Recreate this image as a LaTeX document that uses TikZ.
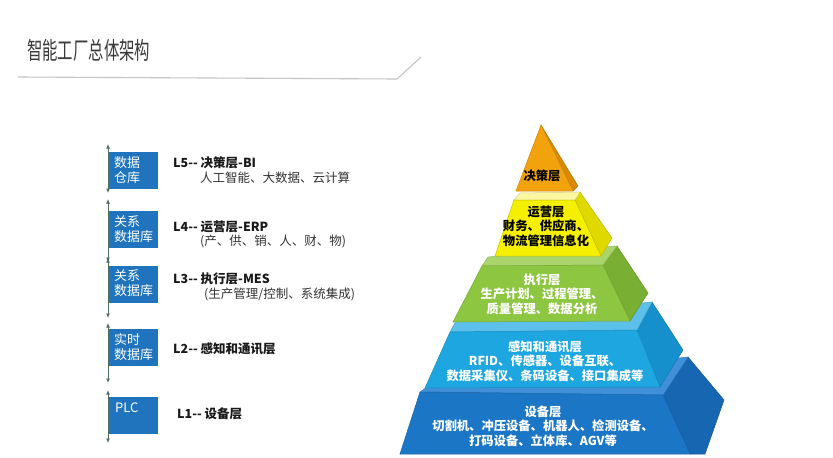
\documentclass[tikz,border=0pt]{standalone}
\usepackage{fontspec}
\usepackage{graphicx}
\setmainfont{Noto Sans CJK SC}
\usetikzlibrary{arrows.meta}
\definecolor{titlegray}{HTML}{3A3A3A}
\definecolor{linegray}{HTML}{C4C4C4}
\definecolor{axiscol}{HTML}{4D6E63}
\definecolor{boxblue}{HTML}{1F74BD}
\definecolor{oF}{HTML}{F2A20C}
\definecolor{oS}{HTML}{D98A00}
\definecolor{yF}{HTML}{F5F000}
\definecolor{yT}{HTML}{FAF7A0}
\definecolor{yS}{HTML}{E0D900}
\definecolor{gF}{HTML}{8DC640}
\definecolor{gT}{HTML}{AAD56C}
\definecolor{gS}{HTML}{79AF33}
\definecolor{lF}{HTML}{1DA6E0}
\definecolor{lT}{HTML}{5CC0EA}
\definecolor{lS}{HTML}{1690CC}
\definecolor{dF}{HTML}{1C76C6}
\definecolor{dT}{HTML}{3F90D8}
\definecolor{dS}{HTML}{1766B2}
\tikzset{
  boxnode/.style={fill=boxblue, minimum width=49pt, minimum height=37pt, inner sep=0pt, anchor=north west},
  boxtxt/.style={text=white, font=\fontsize{13}{15}\selectfont, align=left, inner sep=0pt, anchor=base west},
  axisseg/.style={draw=axiscol, line width=0.9pt, {Latex[length=4.5pt,width=4pt]}-{Latex[length=4.5pt,width=4pt]}},
  lhead/.style={font=\fontsize{12.5}{15}\selectfont\bfseries, text=black!90, inner sep=0pt, anchor=base west},
  lsub/.style={font=\fontsize{12.5}{15}\selectfont, text=black!80, inner sep=0pt, anchor=base west},
  ptxt/.style={font=\fontsize{12.3}{14.6}\selectfont\bfseries, align=center, inner sep=0pt},
}
\begin{document}
\begin{tikzpicture}[x=1pt,y=-1pt]
\useasboundingbox (0,0) rectangle (833,458);
\fill[white] (0,0) rectangle (833,458);

% title
\node[anchor=base west, inner sep=0pt, text=titlegray, font=\fontsize{24}{28}\selectfont] (title) at (27,59) {\scalebox{0.64}[1]{智能工厂总体架构}};
\coordinate (t1) at (18,77);
\coordinate (t2) at (397,79);
\coordinate (t3) at (421,57);
\draw[linegray, line width=1.1pt] (t1) -- (t2) -- (t3);

% left axis segments
\coordinate (a1) at (108,144); \coordinate (a2) at (108,193);
\coordinate (a3) at (108,199); \coordinate (a4) at (108,262);
\coordinate (a5) at (108,258); \coordinate (a6) at (108,318);
\coordinate (a7) at (108,323); \coordinate (a8) at (108,383);
\coordinate (a9) at (108,390); \coordinate (a10) at (108,443);
\draw[axisseg] (a1) -- (a2);
\draw[axisseg] (a3) -- (a4);
\draw[axisseg] (a5) -- (a6);
\draw[axisseg] (a7) -- (a8);
\draw[axisseg] (a9) -- (a10);

% left boxes
\node[boxnode] (b5) at (109,152) {};
\node[boxnode] (b4) at (109,211) {};
\node[boxnode] (b3) at (109,266) {};
\node[boxnode] (b2) at (109,329) {};
\node[boxnode] (b1) at (109,397) {};
\node[boxtxt] (b5t) at ([shift={(5,30.5)}]b5.north west) {数据\\仓库};
\node[boxtxt] (b4t) at ([shift={(5,30)}]b4.north west) {关系\\数据库};
\node[boxtxt] (b3t) at ([shift={(5,29)}]b3.north west) {关系\\数据库};
\node[boxtxt] (b2t) at ([shift={(5,30.5)}]b2.north west) {实时\\数据库};
\node[boxtxt] (b1t) at ([shift={(6,15.5)}]b1.north west) {PLC};

% left labels
\node[lhead] (l5) at (173,167) {L5-{}- 决策层-BI};
\node[lsub] (l5s) at (200,182) {人工智能、大数据、云计算};
\node[lhead] (l4) at (173,231) {L4-{}- 运营层-ERP};
\node[lsub] (l4s) at (200,245) {(产、供、销、人、财、物)};
\node[lhead] (l3) at (173,283) {L3-{}- 执行层-MES};
\node[lsub] (l3s) at (204,298) {(生产管理/控制、系统集成)};
\node[lhead] (l2) at (173,353) {L2-{}- 感知和通讯层};
\node[lhead] (l1) at (177,418) {L1-{}- 设备层};

% pyramid: bottom layer (dark blue)
\filldraw[fill=dS, draw=dS!85!black, line width=0.5pt] (663,395) -- (688,357) -- (724,400) -- (705,454) -- (690,454) -- cycle;
\filldraw[fill=dT, draw=dT!85!black, line width=0.5pt] (420,392) -- (430,385) -- (688,357) -- (663,395) -- cycle;
\filldraw[fill=dF, draw=dF!85!black, line width=0.5pt] (420,392) -- (663,395) -- (690,454) -- (400,454) -- cycle;
% light blue
\filldraw[fill=lS, draw=lS!85!black, line width=0.5pt] (637,330) -- (652,302) -- (683,350) -- (660,387) -- cycle;
\filldraw[fill=lT, draw=lT!85!black, line width=0.5pt] (450,332) -- (456,321) -- (652,302) -- (637,330) -- cycle;
\filldraw[fill=lF, draw=lF!85!black, line width=0.5pt] (450,332) -- (637,330) -- (660,387) -- (425,388) -- cycle;
% green
\filldraw[fill=gS, draw=gS!85!black, line width=0.5pt] (603,265) -- (617,246) -- (648,293) -- (630,321) -- cycle;
\filldraw[fill=gT, draw=gT!85!black, line width=0.5pt] (482,266) -- (488,257) -- (617,246) -- (603,265) -- cycle;
\filldraw[fill=gF, draw=gF!85!black, line width=0.5pt] (482,266) -- (603,265) -- (630,321) -- (453,322) -- cycle;
% yellow
\filldraw[fill=yS, draw=yS!85!black, line width=0.5pt] (575,200) -- (580,192) -- (612,238) -- (601,256) -- cycle;
\filldraw[fill=yT, draw=yT!85!black, line width=0.5pt] (514,200) -- (520,193) -- (580,192) -- (575,200) -- cycle;
\filldraw[fill=yF, draw=yF!80!black, line width=0.5pt] (514,200) -- (575,200) -- (601,256) -- (495,256) -- cycle;
% orange
\filldraw[fill=oS, draw=oS!85!black, line width=0.5pt] (541,125) -- (578,186) -- (573,191) -- cycle;
\filldraw[fill=oF, draw=oF!85!black, line width=0.5pt] (541,125) -- (573,191) -- (516,191) -- cycle;

% pyramid texts
\node[ptxt, text=black] (p5) at (542,176) {决策层};
\node[ptxt, text=black] (p4) at (546,226) {运营层\\财务、供应商、\\物流管理信息化};
\node[ptxt, text=white] (p3) at (542,294) {执行层\\生产计划、过程管理、\\质量管理、数据分析};
\node[ptxt, text=white] (p2) at (545,361) {感知和通讯层\\RFID、传感器、设备互联、\\数据采集仪、条码设备、接口集成等};
\node[ptxt, text=white] (p1) at (543,426) {设备层\\切割机、冲压设备、机器人、检测设备、\\打码设备、立体库、AGV等};
\end{tikzpicture}
\end{document}
